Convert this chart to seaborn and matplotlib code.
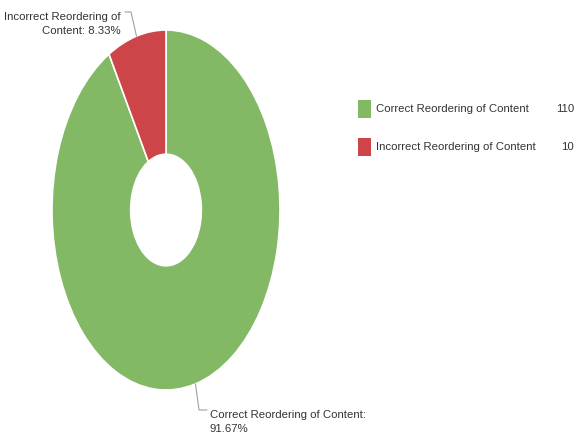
import numpy as np
import matplotlib
matplotlib.use("Agg")
import matplotlib.pyplot as plt
import matplotlib.patches as mpatches
import seaborn as sns

categories = ["Correct Reordering of Content", "Incorrect Reordering of Content"]
counts = [110, 10]
colors = ["#83b865", "#cd4548"]

sns.set_theme(style="white")
plt.rcParams["font.family"] = ["Liberation Sans", "DejaVu Sans"]

fig = plt.figure(figsize=(5.75, 4.41), dpi=100)
W, H = 575, 441

# donut axes (stretched vertically, so the ring is an ellipse)
x0, x1, y0, y1 = 52, 280, 30, 390
ax = fig.add_axes([x0 / W, 1 - y1 / H, (x1 - x0) / W, (y1 - y0) / H])
wedges, _ = ax.pie(counts, colors=colors, startangle=90, counterclock=False,
                   radius=1.0, wedgeprops=dict(width=0.69, edgecolor="white", linewidth=1.2))
ax.set_xlim(-1, 1)
ax.set_ylim(-1, 1)
ax.set_aspect("auto")
ax.axis("off")

total = sum(counts)
pcts = [100 * c / total for c in counts]

def px_to_data(px, py):
    return ((px - x0) / (x1 - x0)) * 2 - 1, 1 - ((py - y0) / (y1 - y0)) * 2

lbl_color = "#333333"
line_color = "#a0a0a0"
fs = 8.2

# leader lines and labels
for i, w in enumerate(wedges):
    ang = np.deg2rad((w.theta1 + w.theta2) / 2)
    ex, ey = np.cos(ang), np.sin(ang)
    head, tail = categories[i].rsplit(" ", 1)
    if i == 1:
        label = f"{head}\n{tail}: {pcts[i]:.2f}%"
        kx, ky = px_to_data(131, 12)
        hx, hy = px_to_data(125, 12)
        ax.plot([ex, kx, hx], [ey, ky, hy], color=line_color, lw=0.8, clip_on=False)
        ax.text(*px_to_data(121, 24), label, ha="right", va="center", fontsize=fs,
                color=lbl_color, linespacing=1.6, multialignment="right")
    else:
        label = f"{categories[i]}:\n{pcts[i]:.2f}%"
        kx, ky = px_to_data(199, 410)
        hx, hy = px_to_data(207, 410)
        ax.plot([ex, kx, hx], [ey, ky, hy], color=line_color, lw=0.8, clip_on=False)
        ax.text(*px_to_data(210, 422), label, ha="left", va="center", fontsize=fs,
                color=lbl_color, linespacing=1.6)

# legend
legend_rows = [109, 147]
for i, yc in enumerate(legend_rows):
    fig.patches.append(mpatches.Rectangle((358 / W, 1 - (yc + 9) / H), 13 / W, 18 / H,
                                          transform=fig.transFigure, facecolor=colors[i],
                                          edgecolor="none"))
    fig.text(376 / W, 1 - yc / H, categories[i], ha="left", va="center",
             fontsize=fs, color=lbl_color)
    fig.text(574 / W, 1 - yc / H, str(counts[i]), ha="right", va="center",
             fontsize=fs, color=lbl_color)

fig.savefig("out.png", dpi=100, facecolor="white")
